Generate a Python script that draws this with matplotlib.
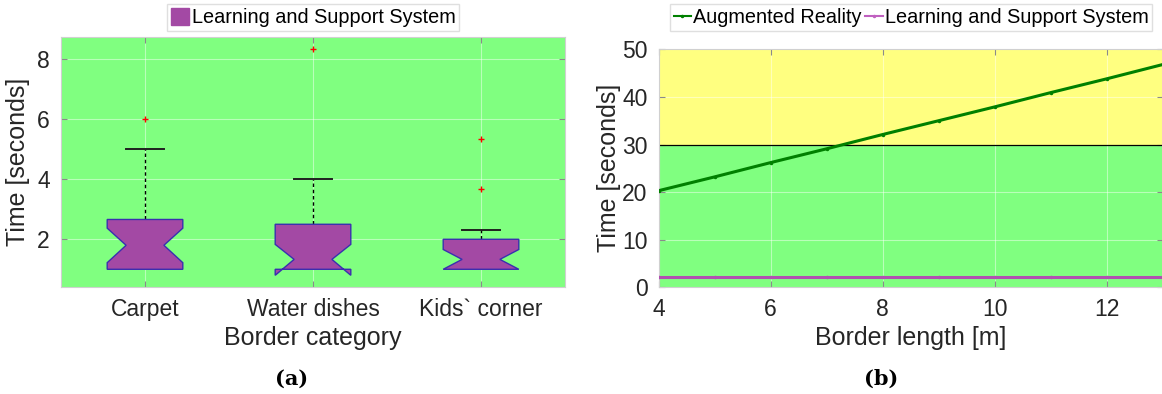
import numpy as np
import matplotlib.pyplot as plt
from matplotlib.patches import Patch
from matplotlib.lines import Line2D

plt.rcParams['font.family'] = ['Liberation Sans', 'DejaVu Sans']

# (a) box statistics per border category
categories = ['Carpet', 'Water dishes', 'Kids` corner']
q1 = [1.0, 1.0, 1.0]
med = [1.8, 1.33, 1.33]
q3 = [2.66, 2.5, 2.0]
ci_lo = [1.22, 0.8, 1.0]
ci_hi = [2.37, 1.83, 1.66]
whis_lo = [1.0, 1.0, 1.0]
whis_hi = [5.0, 4.0, 2.32]
outliers = [[6.0], [8.33], [3.66, 5.33]]

# (b) time versus border length
border_len = [4, 5, 6, 7, 8, 9, 10, 11, 12, 13]
ar_time = [20.3, 23.2, 26.2, 29.1, 32.1, 35.0, 37.9, 40.9, 43.8, 46.8]
lss_time = [2.1, 2.1, 2.1, 2.1, 2.1, 2.1, 2.1, 2.1, 2.1, 2.1]
threshold = 30

GREEN = '#80FF80'
YELLOW = '#FFFF80'
PURPLE = '#A349A4'
TEXT = '#262626'


def style_axes(ax):
    ax.grid(True, color='white', alpha=0.45, linewidth=0.8)
    ax.set_axisbelow(True)
    for s in ax.spines.values():
        s.set_color('#D0D0D0')
    ax.tick_params(direction='in', length=4, top=True, right=True,
                   color='#8A8A8A', labelcolor=TEXT, labelsize=16.5, pad=8)


fig = plt.figure(figsize=(11.62, 3.94), dpi=100)

# ---- (a) notched box plot ----
ax1 = fig.add_axes([61 / 1162, 106.7 / 394, 504 / 1162, 250 / 394])
ax1.set_facecolor(GREEN)
stats = []
for i, name in enumerate(categories):
    stats.append(dict(label=name, q1=q1[i], med=med[i], q3=q3[i],
                      cilo=ci_lo[i], cihi=ci_hi[i],
                      whislo=whis_lo[i], whishi=whis_hi[i],
                      fliers=outliers[i]))
ax1.bxp(stats, positions=[1, 2, 3], widths=0.45, shownotches=True,
        patch_artist=True,
        boxprops=dict(facecolor=PURPLE, edgecolor='#3A2FB0', linewidth=1.0,
                      zorder=3),
        whiskerprops=dict(color='black', linestyle=(0, (2.5, 2)),
                          linewidth=1.0, zorder=2),
        capprops=dict(color='#202020', linewidth=1.4, zorder=2),
        medianprops=dict(linewidth=0),
        flierprops=dict(marker='+', markersize=4, markeredgecolor='red',
                        markeredgewidth=1.0))
ax1.set_xlim(0.5, 3.5)
ax1.set_ylim(0.4, 8.73)
ax1.set_yticks([2, 4, 6, 8])
style_axes(ax1)
ax1.set_xlabel('Border category', fontsize=18, color=TEXT, labelpad=3)
ax1.set_ylabel('Time [seconds]', fontsize=18, color=TEXT, labelpad=5)
ax1.legend(handles=[Patch(facecolor=PURPLE, edgecolor=PURPLE,
                          label='Learning and Support System')],
           loc='center', bbox_to_anchor=(313 / 1162, 1 - 17.7 / 394),
           bbox_transform=fig.transFigure, fontsize=14.3, frameon=True,
           fancybox=False, edgecolor='#D8D8D8', handlelength=0.9,
           handleheight=0.9, handletextpad=0.15, borderpad=0.2,
           borderaxespad=0)

# ---- (b) time vs border length ----
ax2 = fig.add_axes([658.7 / 1162, 106.7 / 394, 504 / 1162, 238 / 394])
ax2.axhspan(0, threshold, color=GREEN, zorder=0, linewidth=0)
ax2.axhspan(threshold, 50, color=YELLOW, zorder=0, linewidth=0)
ax2.axhline(threshold, color='black', linewidth=0.9, zorder=1)
ax2.plot(border_len, ar_time, color='#008000', linewidth=2.2,
         marker='.', markersize=3, zorder=3)
ax2.plot(border_len, lss_time, color='#B050B0', linewidth=2.2,
         marker='.', markersize=3, zorder=3)
ax2.set_xlim(4, 13)
ax2.set_ylim(0, 50)
ax2.set_xticks([4, 6, 8, 10, 12])
ax2.set_yticks([0, 10, 20, 30, 40, 50])
style_axes(ax2)
ax2.grid(True, color='white', alpha=0.45, linewidth=0.8, zorder=2)
ax2.set_xlabel('Border length [m]', fontsize=18, color=TEXT, labelpad=3)
ax2.set_ylabel('Time [seconds]', fontsize=18, color=TEXT, labelpad=1)
handles = [Line2D([], [], color='#008000', marker='.', markersize=3,
                  linewidth=1.5, label='Augmented Reality'),
           Line2D([], [], color='#C060C0', marker='.', markersize=3,
                  linewidth=1.5, label='Learning and Support System')]
ax2.legend(handles=handles, loc='center', ncol=2,
           bbox_to_anchor=(911 / 1162, 1 - 17.7 / 394),
           bbox_transform=fig.transFigure, fontsize=14.3, frameon=True,
           fancybox=False, edgecolor='#D8D8D8', handlelength=0.9,
           handletextpad=0.1, columnspacing=0.15, borderpad=0.2,
           borderaxespad=0)

# captions
fig.text(292 / 1162, 1 - 379 / 394, '(a)', ha='center', va='center',
         fontsize=15, fontweight='bold', family='DejaVu Serif')
fig.text(881 / 1162, 1 - 379 / 394, '(b)', ha='center', va='center',
         fontsize=15, fontweight='bold', family='DejaVu Serif')

fig.savefig('out.png', dpi=100)
